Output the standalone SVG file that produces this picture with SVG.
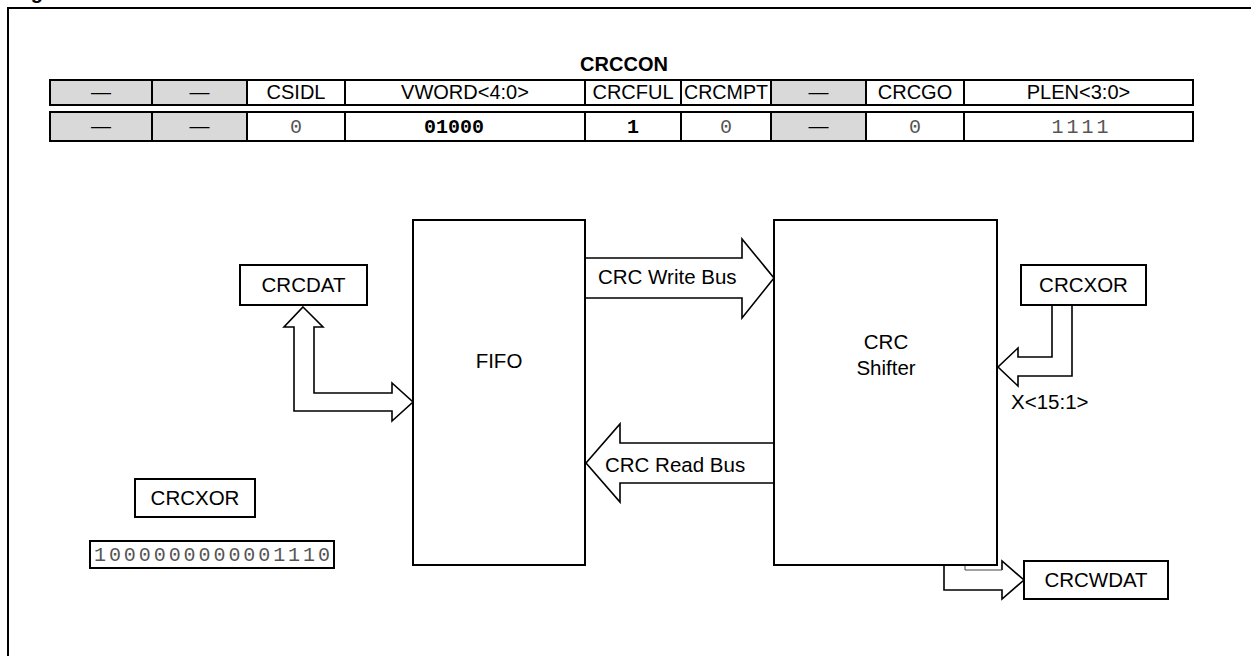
<svg xmlns="http://www.w3.org/2000/svg" width="1251" height="656" viewBox="0 0 1251 656">
<defs>
<style>
.sans{font-family:"Liberation Sans",Arial,sans-serif;font-size:20px;fill:#000;}
.big{font-size:20.5px;}
.bold{font-weight:bold;}
.mono{font-family:"Liberation Mono","Courier New",monospace;font-size:20px;fill:#555;}
.monob{font-family:"Liberation Mono","Courier New",monospace;font-size:20px;font-weight:bold;fill:#000;}
.cell{fill:#fff;stroke:#000;stroke-width:2;}
.grey{fill:#d9d9d9;stroke:#000;stroke-width:2;}
.box{fill:#fff;stroke:#000;stroke-width:2;}
.bus{fill:#fff;stroke:#000;stroke-width:1.6;stroke-linejoin:miter;}
.thin{fill:none;stroke:#444;stroke-width:1;}
</style>
</defs>
<rect width="1251" height="656" fill="#fff"/>
<text class="sans bold" x="13" y="-1" font-size="16">Figure</text>
<path d="M8,656 V8 H1251" fill="none" stroke="#000" stroke-width="2"/>

<g id="crccon">
<text class="sans bold" x="624" y="71" text-anchor="middle">CRCCON</text>
<g id="row-names">
<rect class="grey" x="50" y="80" width="102" height="25"/>
<rect class="grey" x="152" y="80" width="95" height="25"/>
<rect class="cell" x="247" y="80" width="98" height="25"/>
<rect class="cell" x="345" y="80" width="240" height="25"/>
<rect class="cell" x="585" y="80" width="96" height="25"/>
<rect class="cell" x="681" y="80" width="90" height="25"/>
<rect class="grey" x="771" y="80" width="95" height="25"/>
<rect class="cell" x="866" y="80" width="98" height="25"/>
<rect class="cell" x="964" y="80" width="229" height="25"/>
<text class="sans" x="101" y="99" text-anchor="middle">—</text>
<text class="sans" x="199.5" y="99" text-anchor="middle">—</text>
<text class="sans" x="296" y="99" text-anchor="middle">CSIDL</text>
<text class="sans" x="465" y="99" text-anchor="middle">VWORD&lt;4:0&gt;</text>
<text class="sans" x="633" y="99" text-anchor="middle">CRCFUL</text>
<text class="sans" x="726" y="99" text-anchor="middle" textLength="84" lengthAdjust="spacingAndGlyphs">CRCMPT</text>
<text class="sans" x="818.5" y="99" text-anchor="middle">—</text>
<text class="sans" x="915" y="99" text-anchor="middle">CRCGO</text>
<text class="sans" x="1078.5" y="99" text-anchor="middle">PLEN&lt;3:0&gt;</text>
</g>
<g id="row-values">
<rect class="grey" x="50" y="112" width="102" height="29"/>
<rect class="grey" x="152" y="112" width="95" height="29"/>
<rect class="cell" x="247" y="112" width="98" height="29"/>
<rect class="cell" x="345" y="112" width="240" height="29"/>
<rect class="cell" x="585" y="112" width="96" height="29"/>
<rect class="cell" x="681" y="112" width="90" height="29"/>
<rect class="grey" x="771" y="112" width="95" height="29"/>
<rect class="cell" x="866" y="112" width="98" height="29"/>
<rect class="cell" x="964" y="112" width="229" height="29"/>
<text class="sans" x="101" y="133" text-anchor="middle">—</text>
<text class="sans" x="199.5" y="133" text-anchor="middle">—</text>
<text class="mono" x="296" y="133" text-anchor="middle">0</text>
<text class="monob" x="454" y="133" text-anchor="middle">01000</text>
<text class="monob" x="633" y="133" text-anchor="middle">1</text>
<text class="mono" x="726" y="133" text-anchor="middle">0</text>
<text class="sans" x="818.5" y="133" text-anchor="middle">—</text>
<text class="mono" x="915" y="133" text-anchor="middle">0</text>
<text class="mono" x="1080" y="133" text-anchor="middle" textLength="57" lengthAdjust="spacing">1111</text>
</g>
</g>

<g id="connectors">
<path id="crcdat-bus" class="bus" d="M303,307 L323,327 L314,327 L314,393 L392,393 L392,383 L413,402 L392,421 L392,411 L294,411 L294,327 L284,327 Z"/>
<path id="write-bus" class="bus" d="M585,258 L742,258 L742,239 L774,278 L742,318 L742,298 L585,298"/>
<path id="read-bus" class="bus" d="M774,443 L620,443 L620,424 L586,463 L620,502 L620,483 L774,483"/>
<path id="xor-bus" class="bus" d="M1052,305 L1052,357 L1018,357 L1018,348 L998,367 L1018,386 L1018,376 L1072,376 L1072,305"/>
<path id="wdat-bus" class="bus" d="M944,565 L944,590 L1002,590 L1002,599 L1024,580 L1002,561 L1002,570"/>
<path id="wdat-bus-inner" class="thin" d="M1002,570 L965,570 L965,565"/>
</g>

<g id="fifo">
<rect class="box" x="413" y="220" width="172" height="345"/>
<text class="sans big" x="499" y="368" text-anchor="middle">FIFO</text>
</g>
<g id="shifter">
<rect class="box" x="774" y="220" width="223" height="345"/>
<text class="sans big" x="886" y="349" text-anchor="middle">CRC</text>
<text class="sans big" x="886" y="375" text-anchor="middle">Shifter</text>
</g>
<g id="crcdat">
<rect class="box" x="240" y="265" width="127" height="40"/>
<text class="sans big" x="303.5" y="292" text-anchor="middle">CRCDAT</text>
</g>
<g id="crcxor-in">
<rect class="box" x="1021" y="265" width="125" height="40"/>
<text class="sans big" x="1083.5" y="292" text-anchor="middle">CRCXOR</text>
</g>
<g id="crcwdat">
<rect class="box" x="1024" y="561" width="144" height="38"/>
<text class="sans big" x="1096" y="587" text-anchor="middle">CRCWDAT</text>
</g>
<g id="crcxor-reg">
<rect class="box" x="135" y="479" width="120" height="38"/>
<text class="sans big" x="195" y="505" text-anchor="middle">CRCXOR</text>
<rect class="box" x="90" y="541" width="244" height="27"/>
<text class="mono" x="212" y="561" text-anchor="middle" textLength="236" lengthAdjust="spacing">1000000000001110</text>
</g>
<g id="labels">
<text class="sans big" x="598" y="284">CRC Write Bus</text>
<text class="sans big" x="605" y="472">CRC Read Bus</text>
<text class="sans big" x="1011" y="409">X&lt;15:1&gt;</text>
</g>
</svg>
